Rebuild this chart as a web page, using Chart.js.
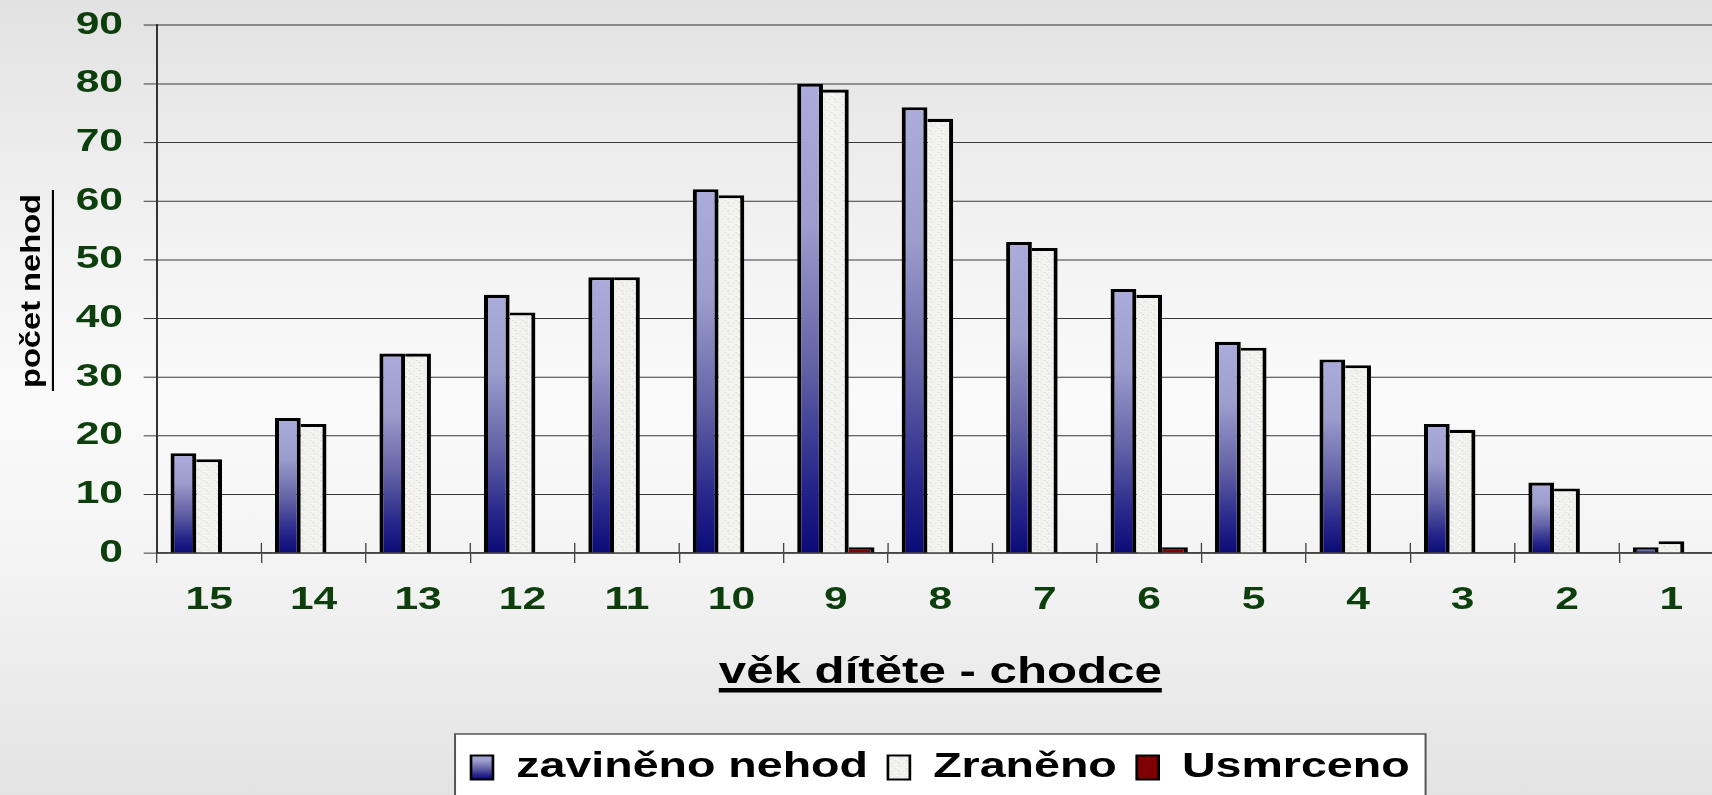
<!DOCTYPE html>
<html>
<head>
<meta charset="utf-8">
<script src="https://cdn.jsdelivr.net/npm/chart.js@4.4.0/dist/chart.umd.min.js"></script>
<style>
    html, body { margin: 0; padding: 0; }
    body {
        width: 1712px; height: 795px; overflow: hidden;
        background: linear-gradient(to bottom, #e2e2e2 0%, #f2f2f2 30%, #fafafa 50%, #f4f4f4 70%, #e3e3e3 100%);
    }
    #wrap { position: relative; width: 1712px; height: 795px; overflow: hidden; }
    /* the chart is laid out 1296 units wide and stretched 1.33x horizontally, like the original */
    #chart { position: absolute; left: 0; top: 0; width: 1723px !important; height: 1057px !important; }
</style>
</head>
<body>
<div id="wrap"><canvas id="chart" width="1296" height="795"></canvas></div>
<script>
// Data
const ages = ['15', '14', '13', '12', '11', '10', '9', '8', '7', '6', '5', '4', '3', '2', '1'];
const caused = [17, 23, 34, 44, 47, 62, 80, 76, 53, 45, 36, 33, 22, 12, 1];
const injured = [16, 22, 34, 41, 47, 61, 79, 74, 52, 44, 35, 32, 21, 11, 2];
const killed = [0, 0, 0, 0, 0, 0, 1, 0, 0, 1, 0, 0, 0, 0, 0];
const seriesNames = ['zaviněno nehod', 'Zraněno', 'Usmrceno'];
const yMin = 0, yMax = 90, yStep = 10;
const xTitle = 'věk dítěte - chodce';
const yTitle = 'počet nehod';

const STRETCH = 1.33;
const FONT = '"Liberation Sans", Arial, sans-serif';
const BW = 3.1;

const canvas = document.getElementById('chart');
const ctx = canvas.getContext('2d');

// speckled light fill for the "Zraněno" bars
function makeSpeckle() {
    const tile = document.createElement('canvas');
    tile.width = 8; tile.height = 8;
    const t = tile.getContext('2d');
    t.fillStyle = '#f1f1ee';
    t.fillRect(0, 0, 8, 8);
    const specks = [[1, 0, '#dcdcda'], [5, 1, '#fbfbfb'], [3, 2, '#d4d4d2'], [7, 3, '#e2e2e0'],
                    [0, 4, '#fafafa'], [4, 5, '#d8d8d6'], [6, 6, '#e6e6e4'], [2, 7, '#fdfdfd']];
    specks.forEach(([x, y, c]) => { t.fillStyle = c; t.fillRect(x, y, 1, 1); });
    return ctx.createPattern(tile, 'repeat');
}
const speckle = makeSpeckle();

function blueGradient(top, bottom) {
    const g = ctx.createLinearGradient(0, top, 0, bottom);
    g.addColorStop(0, '#ababdc');
    g.addColorStop(0.3, '#9c9ccd');
    g.addColorStop(0.6, '#6262a6');
    g.addColorStop(0.85, '#26268b');
    g.addColorStop(1, '#0b0b77');
    return g;
}

function blueBar(c) {
    const chart = c.chart;
    if (c.type !== 'data' || !chart.chartArea) return '#6a6aa8';
    const y = chart.scales.y;
    const top = y.getPixelForValue(c.raw);
    const bottom = y.getPixelForValue(0);
    if (bottom - top < 1) return '#8a8ac0';
    return blueGradient(top, bottom);
}

const legendFills = [blueGradient(753, 779), speckle, '#7f0000'];

// legend frame, axis titles with underline, horizontal stretch
const decorPlugin = {
    id: 'decor',
    afterLayout(chart) {
        const lg = chart.legend;
        const a = chart.chartArea;
        const d = (a.left + a.right) / 2 - (lg.left + lg.right) / 2;
        lg.left += d;
        lg.right += d;
    },
    beforeDraw(chart) {
        const c = chart.ctx;
        c.setTransform(STRETCH, 0, 0, 1, 0, 0);
        const lg = chart.legend;
        const pad = lg.options.labels.padding;
        const lw = lg.lineWidths[0];
        const x0 = (lg.left + pad + lg.right - lw) / 2;
        const x1 = x0 + lw - pad;
        c.save();
        c.fillStyle = '#ffffff';
        c.strokeStyle = '#555555';
        c.lineWidth = 1.5;
        c.fillRect(x0 - 12, lg.top - 1, x1 - x0 + 24, 80);
        c.strokeRect(x0 - 12, lg.top - 1, x1 - x0 + 24, 80);
        c.restore();
    },
    afterDraw(chart) {
        const c = chart.ctx;
        const a = chart.chartArea;
        c.save();
        // short tick marks above the category axis
        const x = chart.scales.x;
        c.fillStyle = '#444';
        for (let i = 1; i < ages.length; i++) {
            const px = (x.getPixelForTick(i - 1) + x.getPixelForTick(i)) / 2;
            c.fillRect(px - 0.5, a.bottom - 10, 1, 10);
        }
        // x title
        c.font = 'bold 37px ' + FONT;
        c.fillStyle = '#000';
        c.textAlign = 'center';
        c.textBaseline = 'alphabetic';
        const cx = (a.left + a.right) / 2;
        const w = c.measureText(xTitle).width;
        c.fillText(xTitle, cx, 683);
        c.fillRect(cx - w / 2, 688, w, 4.5);
        // y title
        c.save();
        c.translate(24, (a.top + a.bottom) / 2 + 2);
        c.rotate(-Math.PI / 2);
        c.font = 'bold 21px ' + FONT;
        const wy = c.measureText(yTitle).width;
        c.scale(194 / wy, 1);
        c.textAlign = 'center';
        c.textBaseline = 'middle';
        c.fillText(yTitle, 0, 0);
        c.restore();
        c.fillRect(39, 190, 1.6, 201);
        c.restore();
    }
};

new Chart(canvas, {
    type: 'bar',
    data: {
        labels: ages,
        datasets: [
            {
                label: seriesNames[0],
                data: caused,
                backgroundColor: blueBar,
                borderColor: '#000',
                borderWidth: BW
            },
            {
                label: seriesNames[1],
                data: injured,
                backgroundColor: speckle,
                borderColor: '#000',
                borderWidth: { top: BW, right: BW, left: 0, bottom: 0 }
            },
            {
                label: seriesNames[2],
                data: killed,
                backgroundColor: '#7f0000',
                borderColor: '#000',
                borderWidth: { top: BW, right: BW, left: 0, bottom: 0 }
            }
        ]
    },
    options: {
        responsive: false,
        animation: false,
        devicePixelRatio: STRETCH,
        categoryPercentage: 0.74,
        barPercentage: 1.0,
        layout: { padding: { top: 25, left: 0, right: 0, bottom: 0 } },
        scales: {
            x: {
                grid: { drawOnChartArea: false, drawTicks: true, tickLength: 10, tickColor: '#444', tickWidth: 1 },
                border: { display: true, color: '#444', width: 1.5 },
                ticks: {
                    color: '#0c3f0c',
                    padding: 18,
                    font: { family: FONT, size: 32, weight: 'bold' }
                },
                afterFit(scale) { scale.height = 182; }
            },
            y: {
                min: yMin,
                max: yMax,
                grid: {
                    color: c => c.tick && c.tick.value === yMax ? '#8a8a8a' : '#3a3a3a',
                    lineWidth: c => c.tick && c.tick.value === yMax ? 2 : 1,
                    tickLength: 10
                },
                border: { display: true, color: '#333', width: 1.5 },
                ticks: {
                    stepSize: yStep,
                    color: '#0c3f0c',
                    padding: 15.5,
                    font: { family: FONT, size: 32, weight: 'bold' }
                },
                afterFit(scale) {
                    scale.width = 118;
                    scale.paddingTop = 0;
                    scale.paddingBottom = 0;
                }
            }
        },
        plugins: {
            tooltip: { enabled: false },
            legend: {
                position: 'bottom',
                labels: {
                    color: '#000',
                    boxWidth: 16.5,
                    boxHeight: 24,
                    padding: 15,
                    font: { family: FONT, size: 35, weight: 'bold' },
                    generateLabels: chart => chart.data.datasets.map((ds, i) => ({
                        text: ds.label,
                        fillStyle: legendFills[i],
                        strokeStyle: '#000',
                        lineWidth: 2,
                        hidden: false,
                        datasetIndex: i
                    }))
                }
            }
        }
    },
    plugins: [decorPlugin]
});
</script>
</body>
</html>
